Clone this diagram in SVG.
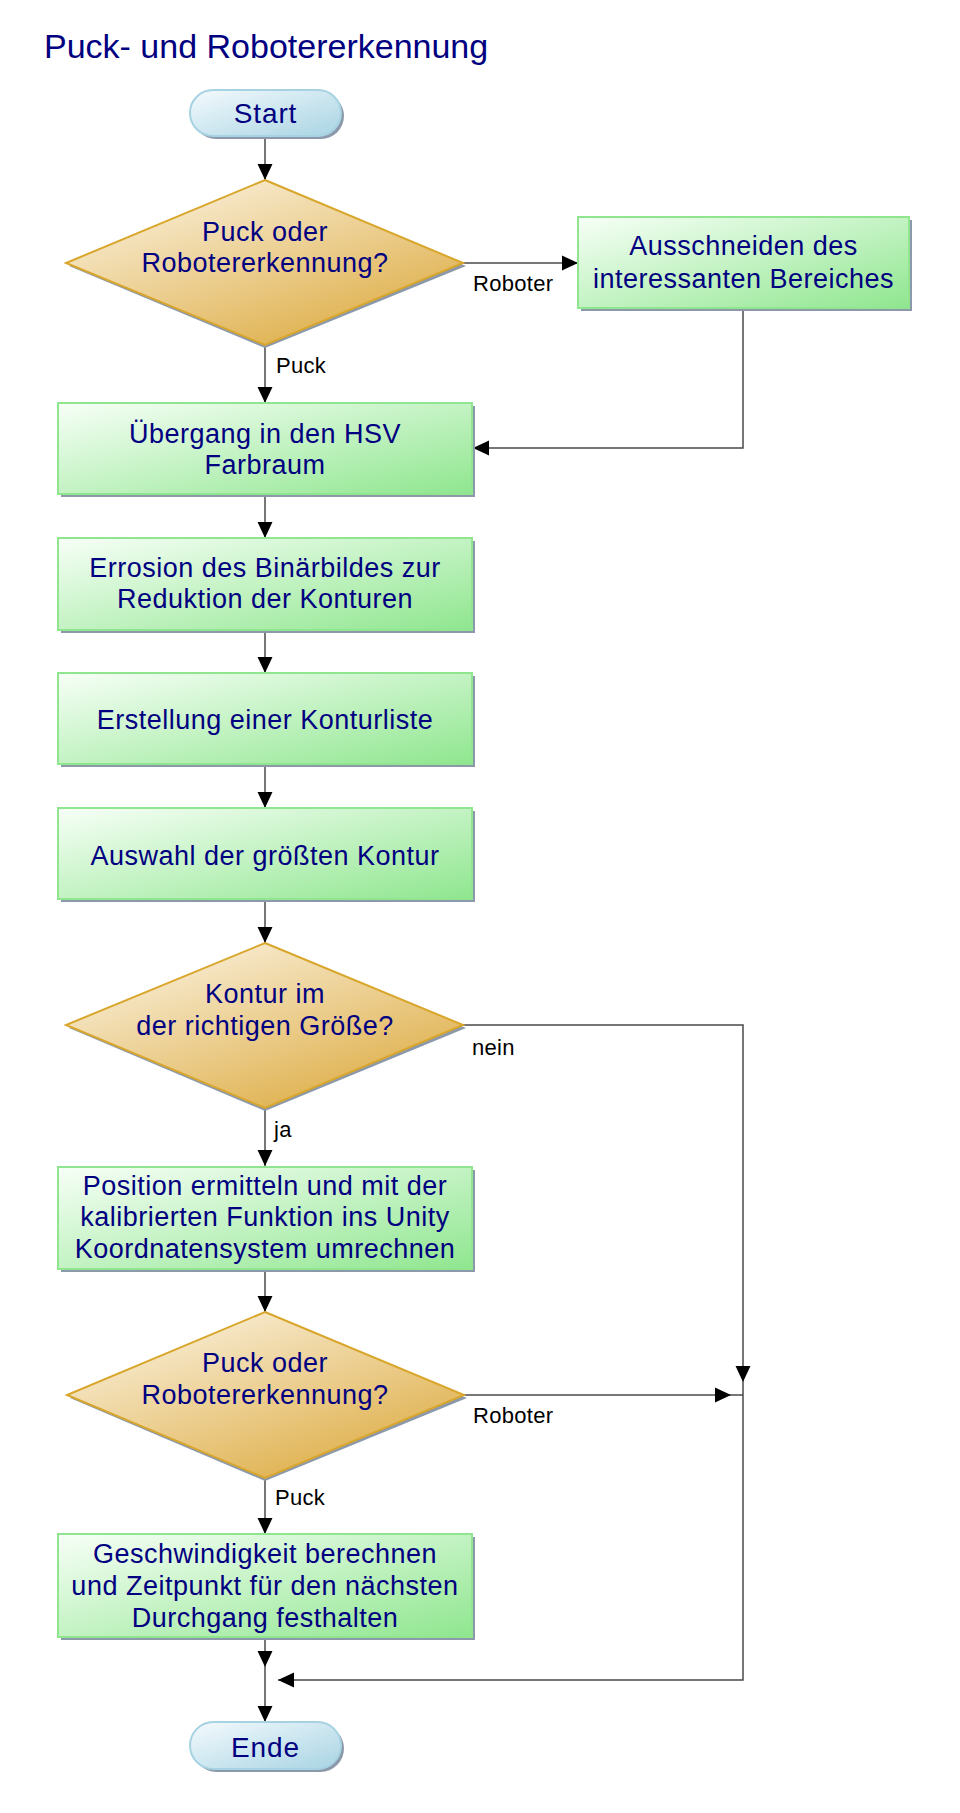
<svg xmlns="http://www.w3.org/2000/svg" width="960" height="1813" viewBox="0 0 960 1813">
<defs>
<linearGradient id="gBox" x1="0" y1="0" x2="1" y2="1">
<stop offset="0" stop-color="#f7fff7"/>
<stop offset="1" stop-color="#8fe68f"/>
</linearGradient>
<linearGradient id="gDia" x1="0.2" y1="0.1" x2="0.8" y2="0.9">
<stop offset="0" stop-color="#f8ecd2"/>
<stop offset="1" stop-color="#dfb04c"/>
</linearGradient>
<linearGradient id="gTerm" x1="0" y1="0" x2="1" y2="1">
<stop offset="0" stop-color="#f4fafd"/>
<stop offset="1" stop-color="#a8d4e3"/>
</linearGradient>
<marker id="arr" markerUnits="userSpaceOnUse" markerWidth="16" markerHeight="16" viewBox="0 0 15 14" refX="15" refY="7" orient="auto">
<path d="M0,0 L15,7 L0,14 z" fill="#000"/>
</marker>
<style>
.box{fill:url(#gBox);stroke:#8fe68f;stroke-width:2}
.dia{fill:url(#gDia);stroke:#d9a62c;stroke-width:2}
.term{fill:url(#gTerm);stroke:#a6d2e2;stroke-width:2}
.shadow{fill:#8c99aa}
.t{font-family:"Liberation Sans",Arial,sans-serif;font-size:27px;fill:#000080;text-anchor:middle;letter-spacing:0.5px}
.tt{font-family:"Liberation Sans",Arial,sans-serif;font-size:28px;fill:#000080;text-anchor:middle;letter-spacing:0.9px}
.lbl{font-family:"Liberation Sans",Arial,sans-serif;font-size:22px;fill:#000;letter-spacing:0.3px}
.title{font-family:"Liberation Sans",Arial,sans-serif;font-size:34px;fill:#000080}
.c{fill:none;stroke:#4a4a4a;stroke-width:1.5}
</style>
</defs>
<rect width="960" height="1813" fill="#fff"/>
<text class="title" x="44" y="58">Puck- und Robotererkennung</text>

<g id="connectors">
<path class="c" d="M265,137 V180" marker-end="url(#arr)"/>
<path class="c" d="M265,345 V403" marker-end="url(#arr)"/>
<path class="c" d="M463,263 H578" marker-end="url(#arr)"/>
<path class="c" d="M743,308 V448 H473" marker-end="url(#arr)"/>
<path class="c" d="M265,494 V538" marker-end="url(#arr)"/>
<path class="c" d="M265,630 V673" marker-end="url(#arr)"/>
<path class="c" d="M265,764 V808" marker-end="url(#arr)"/>
<path class="c" d="M265,899 V943" marker-end="url(#arr)"/>
<path class="c" d="M265,1108 V1166" marker-end="url(#arr)"/>
<path class="c" d="M463,1025 H743 V1382" marker-end="url(#arr)"/>
<path class="c" d="M743,1382 V1680 H278" marker-end="url(#arr)"/>
<path class="c" d="M265,1268 V1312" marker-end="url(#arr)"/>
<path class="c" d="M464,1395 H731" marker-end="url(#arr)"/>
<path class="c" d="M731,1395 H743"/>
<path class="c" d="M265,1478 V1534" marker-end="url(#arr)"/>
<path class="c" d="M265,1637 V1667" marker-end="url(#arr)"/>
<path class="c" d="M265,1667 V1722" marker-end="url(#arr)"/>
<text class="lbl" x="473" y="291">Roboter</text>
<text class="lbl" x="276" y="373">Puck</text>
<text class="lbl" x="472" y="1055">nein</text>
<text class="lbl" x="274" y="1137">ja</text>
<text class="lbl" x="473" y="1423">Roboter</text>
<text class="lbl" x="275" y="1505">Puck</text>
</g>

<g id="start">
<rect class="shadow" x="193" y="93" width="151" height="46" rx="23"/>
<rect class="term" x="190" y="90" width="151" height="46" rx="23"/>
<text class="tt" x="265.5" y="123">Start</text>
</g>

<g id="decision1">
<polygon class="shadow" points="265,183 466,266 265,348 69,266"/>
<polygon class="dia" points="265,180 463,263 265,345 66,263"/>
<text class="t" x="265" y="241">Puck oder</text>
<text class="t" x="265" y="272">Robotererkennung?</text>
</g>

<g id="ausschneiden">
<rect class="shadow" x="581" y="220" width="331" height="91"/>
<rect class="box" x="578" y="217" width="331" height="91"/>
<text class="t" x="743.5" y="255">Ausschneiden des</text>
<text class="t" x="743.5" y="288">interessanten Bereiches</text>
</g>

<g id="hsv">
<rect class="shadow" x="61" y="406" width="414" height="91"/>
<rect class="box" x="58" y="403" width="414" height="91"/>
<text class="t" x="265" y="443">Übergang in den HSV</text>
<text class="t" x="265" y="474">Farbraum</text>
</g>

<g id="errosion">
<rect class="shadow" x="61" y="541" width="414" height="92"/>
<rect class="box" x="58" y="538" width="414" height="92"/>
<text class="t" x="265" y="577">Errosion des Binärbildes zur</text>
<text class="t" x="265" y="608">Reduktion der Konturen</text>
</g>

<g id="konturliste">
<rect class="shadow" x="61" y="676" width="414" height="91"/>
<rect class="box" x="58" y="673" width="414" height="91"/>
<text class="t" x="265" y="729">Erstellung einer Konturliste</text>
</g>

<g id="auswahl">
<rect class="shadow" x="61" y="811" width="414" height="91"/>
<rect class="box" x="58" y="808" width="414" height="91"/>
<text class="t" x="265" y="865">Auswahl der größten Kontur</text>
</g>

<g id="decision2">
<polygon class="shadow" points="265,946 466,1028 265,1111 69,1028"/>
<polygon class="dia" points="265,943 463,1025 265,1108 66,1025"/>
<text class="t" x="265" y="1003">Kontur im</text>
<text class="t" x="265" y="1035">der richtigen Größe?</text>
</g>

<g id="position">
<rect class="shadow" x="61" y="1170" width="414" height="102"/>
<rect class="box" x="58" y="1167" width="414" height="102"/>
<text class="t" x="265" y="1195">Position ermitteln und mit der</text>
<text class="t" x="265" y="1226">kalibrierten Funktion ins Unity</text>
<text class="t" x="265" y="1258">Koordnatensystem umrechnen</text>
</g>

<g id="decision3">
<polygon class="shadow" points="265,1315 467,1398 265,1481 70,1398"/>
<polygon class="dia" points="265,1312 464,1395 265,1478 67,1395"/>
<text class="t" x="265" y="1372">Puck oder</text>
<text class="t" x="265" y="1404">Robotererkennung?</text>
</g>

<g id="geschwindigkeit">
<rect class="shadow" x="61" y="1537" width="414" height="103"/>
<rect class="box" x="58" y="1534" width="414" height="103"/>
<text class="t" x="265" y="1563">Geschwindigkeit berechnen</text>
<text class="t" x="265" y="1595">und Zeitpunkt für den nächsten</text>
<text class="t" x="265" y="1627">Durchgang festhalten</text>
</g>

<g id="ende">
<rect class="shadow" x="193" y="1725" width="151" height="47" rx="23.5"/>
<rect class="term" x="190" y="1722" width="151" height="47" rx="23.5"/>
<text class="tt" x="265.5" y="1757">Ende</text>
</g>
</svg>
